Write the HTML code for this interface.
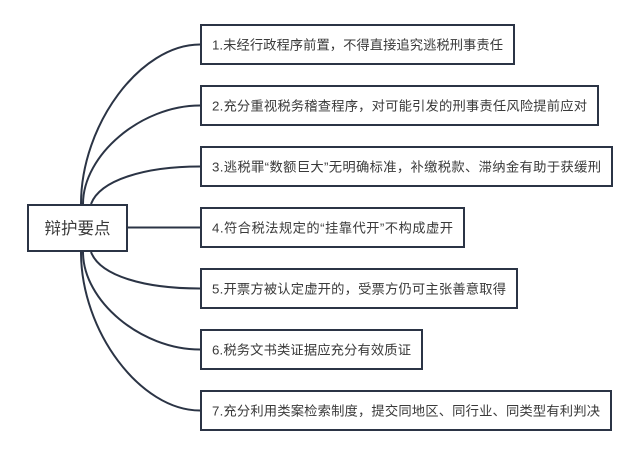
<!DOCTYPE html>
<html>
<head>
<meta charset="utf-8">
<style>
  html,body{margin:0;padding:0;background:#fff;}
  svg{display:block;}
  text{font-family:"Liberation Sans","Noto Sans CJK SC",sans-serif;fill:#3a3a3a;}
</style>
</head>
<body>
<svg width="640" height="456" viewBox="0 0 640 456" xmlns="http://www.w3.org/2000/svg">
  <rect x="0" y="0" width="640" height="456" fill="#fff"/>
  <g fill="none" stroke="#2b3445" stroke-width="2">
    <!-- curves up -->
    <path d="M81,204 C81,124.5 140.5,44.5 200,44.5"/>
    <path d="M83,204 C83,155 141,105.5 200,105.5"/>
    <path d="M91,204 C100,180 145,166.5 200,166.5"/>
    <!-- straight -->
    <path d="M128,227.5 L200,227.5"/>
    <!-- curves down -->
    <path d="M91,252 C100,276 145,288.5 200,288.5"/>
    <path d="M83,252 C83,301 141,349.5 200,349.5"/>
    <path d="M81,252 C81,331.5 140.5,410.5 200,410.5"/>
    <!-- root -->
    <rect x="28" y="205" width="99" height="46"/>
    <!-- boxes -->
    <rect x="201" y="25" width="313" height="39"/>
    <rect x="201" y="86" width="397" height="39"/>
    <rect x="201" y="147" width="411" height="39"/>
    <rect x="201" y="208" width="263" height="39"/>
    <rect x="201" y="269" width="316" height="39"/>
    <rect x="201" y="330" width="221" height="39"/>
    <rect x="201" y="391" width="410" height="39"/>
  </g>
  <text x="77.5" y="234" font-size="16.5" text-anchor="middle">辩护要点</text>
  <g font-size="13.3">
    <text x="212" y="49.5" textLength="291" lengthAdjust="spacing">1.未经行政程序前置，不得直接追究逃税刑事责任</text>
    <text x="212" y="110.5" textLength="375" lengthAdjust="spacing">2.充分重视税务稽查程序，对可能引发的刑事责任风险提前应对</text>
    <text x="212" y="171.5" textLength="389" lengthAdjust="spacing">3.逃税罪“数额巨大”无明确标准，补缴税款、滞纳金有助于获缓刑</text>
    <text x="212" y="232.5" textLength="241" lengthAdjust="spacing">4.符合税法规定的“挂靠代开”不构成虚开</text>
    <text x="212" y="293.5" textLength="294" lengthAdjust="spacing">5.开票方被认定虚开的，受票方仍可主张善意取得</text>
    <text x="212" y="354.5" textLength="199" lengthAdjust="spacing">6.税务文书类证据应充分有效质证</text>
    <text x="212" y="415.5" textLength="388" lengthAdjust="spacing">7.充分利用类案检索制度，提交同地区、同行业、同类型有利判决</text>
  </g>
</svg>
</body>
</html>
